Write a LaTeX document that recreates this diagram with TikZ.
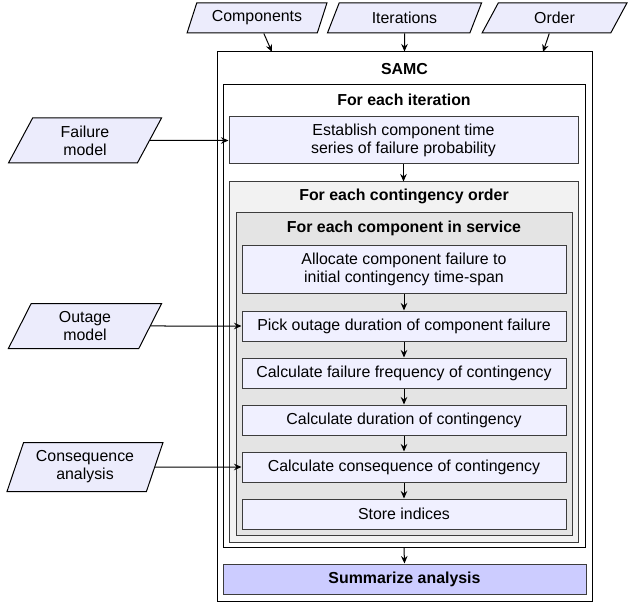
\documentclass[tikz,border=0pt]{standalone}
\usepackage{fontspec}
\setmainfont{Liberation Sans}
\usetikzlibrary{shapes.geometric,arrows.meta}
\definecolor{lav}{RGB}{240,240,255}
\definecolor{plav}{RGB}{236,236,252}
\definecolor{summfill}{RGB}{204,204,255}
\definecolor{contfill}{RGB}{242,242,242}
\definecolor{compfill}{RGB}{228,228,228}
\definecolor{edge}{RGB}{60,60,60}
\begin{document}
\begin{tikzpicture}[x=1pt,y=-1pt,
  font=\fontsize{15.9}{18}\selectfont,
  frame/.style={draw=black,line width=1pt,fill=white,inner sep=0pt,rectangle},
  contbox/.style={draw=edge,line width=1pt,fill=contfill,inner sep=0pt,rectangle},
  compbox/.style={draw=edge,line width=1pt,fill=compfill,inner sep=0pt,rectangle},
  stepbox/.style={draw=edge,line width=1pt,fill=lav,inner sep=0pt,rectangle,align=center,minimum width=324pt,minimum height=30pt},
  sumbox/.style={draw=edge,line width=1pt,fill=summfill,inner sep=0pt,rectangle,font=\fontsize{15.9}{18}\selectfont\bfseries},
  title/.style={font=\fontsize{15.9}{18}\selectfont\bfseries,inner sep=0pt},
  para/.style={trapezium,trapezium stretches=true,draw=black,line width=1pt,fill=plav,align=center,inner sep=0pt},
  arr/.style={-{Stealth[length=7.5pt,width=6.5pt,inset=2.5pt]},line width=1pt,draw=black}
]
\useasboundingbox (0,0) rectangle (632,604);

% inputs top
\node[para,minimum width=140pt,minimum height=30pt,trapezium left angle=63.4,trapezium right angle=116.6] (comp) at (257,18) {Components};
\node[para,minimum width=155pt,minimum height=30pt,trapezium left angle=63.4,trapezium right angle=116.6] (iters) at (404.5,18) {Iterations};
\node[para,minimum width=145pt,minimum height=30pt,trapezium left angle=63.4,trapezium right angle=116.6] (order) at (554.5,18) {Order};

% left inputs
\node[para,minimum width=154pt,minimum height=45pt,trapezium left angle=69.3,trapezium right angle=110.7] (fail) at (85,140.5) {Failure\\model};
\node[para,minimum width=154pt,minimum height=45pt,trapezium left angle=69.3,trapezium right angle=110.7] (outm) at (85,326) {Outage\\model};
\node[para,minimum width=156pt,minimum height=49pt,trapezium left angle=67.8,trapezium right angle=112.2] (consa) at (85,467) {Consequence\\analysis};

% nested frames
\node[frame,minimum width=375pt,minimum height=549pt] (samc) at (404.5,326.5) {};
\node[title] (samct) at (404.5,69) {SAMC};
\node[frame,minimum width=362pt,minimum height=462pt] (itbox) at (404,316) {};
\node[title] (itt) at (404,100) {For each iteration};
\node[stepbox,minimum width=349pt,minimum height=47pt] (est) at (403.5,140.5) {Establish component time\\series of failure probability};
\node[contbox,minimum width=349pt,minimum height=360pt] (cont) at (403.5,362) {};
\node[title] (contt) at (404,196) {For each contingency order};
\node[compbox,minimum width=336pt,minimum height=322pt] (compb) at (404,374) {};
\node[title] (compt) at (404,228) {For each component in service};

\node[stepbox,minimum height=47pt] (alloc) at (404,269.5) {Allocate component failure to\\initial contingency time-span};
\node[stepbox] (pick) at (404,326) {Pick outage duration of component failure};
\node[stepbox] (freq) at (404,373) {Calculate failure frequency of contingency};
\node[stepbox] (dur) at (404,420) {Calculate duration of contingency};
\node[stepbox] (cons) at (404,467) {Calculate consequence of contingency};
\node[stepbox] (store) at (404,514) {Store indices};

\node[sumbox,minimum width=363pt,minimum height=30pt] (summ) at (404.5,579) {Summarize analysis};

% connectors
\coordinate (ta) at (272,52);
\coordinate (tb) at (543,52);
\draw[arr] (comp) -- (ta);
\draw[arr] (iters.south) -- (samc.north);
\draw[arr] (order) -- (tb);
\draw[arr] (fail) -- (est);
\draw[arr] (outm) -- (pick);
\draw[arr] (consa) -- (cons);
\draw[arr] (est.south) -- (cont.north);
\draw[arr] (alloc) -- (pick);
\draw[arr] (pick) -- (freq);
\draw[arr] (freq) -- (dur);
\draw[arr] (dur) -- (cons);
\draw[arr] (cons) -- (store);
\draw[arr] (itbox.south) -- (summ.north);
\end{tikzpicture}
\end{document}
